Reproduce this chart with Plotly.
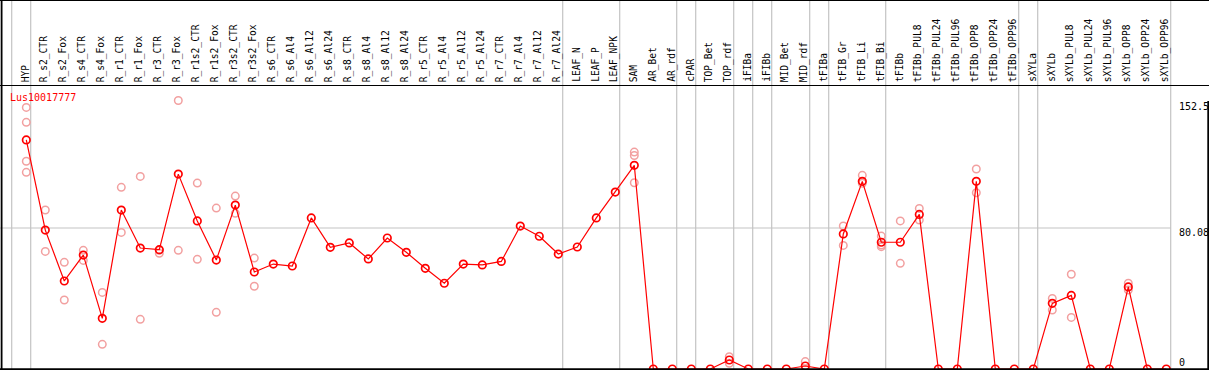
import plotly.graph_objects as go

W, H = 1209, 370

categories = ["HYP", "R_s2_CTR", "R_s2_Fox", "R_s4_CTR", "R_s4_Fox", "R_r1_CTR", "R_r1_Fox",
              "R_r3_CTR", "R_r3_Fox", "R_r1s2_CTR", "R_r1s2_Fox", "R_r3s2_CTR", "R_r3s2_Fox",
              "R_s6_CTR", "R_s6_Al4", "R_s6_Al12", "R_s6_Al24", "R_s8_CTR", "R_s8_Al4",
              "R_s8_Al12", "R_s8_Al24", "R_r5_CTR", "R_r5_Al4", "R_r5_Al12", "R_r5_Al24",
              "R_r7_CTR", "R_r7_Al4", "R_r7_Al12", "R_r7_Al24", "LEAF_N", "LEAF_P", "LEAF_NPK",
              "SAM", "AR_Bet", "AR_rdf", "cPAR", "TOP_Bet", "TOP_rdf", "iFIBa", "iFIBb",
              "MID_Bet", "MID_rdf", "tFIBa", "tFIB_Gr", "tFIB_Li", "tFIB_Bi", "tFIBb",
              "tFIBb_PUL8", "tFIBb_PUL24", "tFIBb_PUL96", "tFIBb_OPP8", "tFIBb_OPP24",
              "tFIBb_OPP96", "sXYLa", "sXYLb", "sXYLb_PUL8", "sXYLb_PUL24", "sXYLb_PUL96",
              "sXYLb_OPP8", "sXYLb_OPP24", "sXYLb_OPP96"]

means = [130.1, 78.9, 50.0, 64.7, 28.8, 90.3, 68.7, 67.8, 110.7, 84.1, 61.9, 93.1, 55.1,
         59.6, 58.5, 85.8, 69.1, 71.6, 62.5, 74.4, 66.3, 57.2, 48.7, 59.6, 59.1,
         61.1, 81.2, 75.4, 65.3, 69.3, 85.8, 100.5,
         115.7, 0, 0, 0, 0, 5.1, 0, 0,
         0, 1.7, 0, 76.7, 106.6, 72.0, 72.0,
         87.8, 0, 0, 106.6, 0,
         0, 0, 37.3, 41.8, 0, 0,
         46.6, 0, 0]

replicates = [[148.6, 140.1, 118.0, 111.7], [90.3, 66.8], [60.6, 39.2], [67.4, 61.7],
              [43.5, 14.0], [103.2, 77.6], [109.4, 28.2], [67.4, 65.7], [152.5, 67.4],
              [105.6, 62.3], [91.4, 32.2], [98.2, 88.4], [63.0, 47.0],
              [], [], [], [], [], [], [], [], [], [], [], [], [], [], [], [], [], [], [],
              [123.2, 121.3, 105.8], [], [], [], [], [7.0, 3.2], [], [],
              [], [4.2, 0.0], [], [81.2, 70.2], [110.0, 105.5], [75.5, 69.5, 70.4], [84.1, 60.0],
              [91.2, 84.6], [], [], [113.6, 100.1], [],
              [], [], [40.1, 33.5], [53.8, 29.3], [], [],
              [48.7, 44.9], [], []]

# group separators: drawn just after these category indices
separators_after = [-1, 0, 28, 31, 34, 35, 37, 38, 39, 41, 42, 45, 52, 53, 60]

y_ticks = [0, 80.08, 152.5]
y_tick_labels = ["0", "80.08", "152.5"]
gene_id = "Lus10017777"

# pixel mapping
X0, DX = 26.3, 19.0          # pixel of first category, pixel step
Y0, SY = 369.0, 1.7605       # pixel of value 0, pixels per unit
x_min = -X0 / DX
x_max = (W - X0) / DX
y_min = (Y0 - H) / SY
y_max = Y0 / SY

def px(xp):
    return xp / W

def py(yp):
    return 1 - yp / H

idx = list(range(len(categories)))
rx, ry = [], []
for i, reps in enumerate(replicates):
    for v in reps:
        rx.append(i)
        ry.append(v)

fig = go.Figure()
fig.add_trace(go.Scatter(x=rx, y=ry, mode="markers",
                         marker=dict(symbol="circle-open", size=7.5, color="#F2A0A0",
                                     line=dict(width=1.5, color="#F2A0A0")),
                         hoverinfo="skip", showlegend=False))
fig.add_trace(go.Scatter(x=idx, y=means, mode="lines+markers",
                         line=dict(color="#FF0000", width=1.2),
                         marker=dict(symbol="circle-open", size=7.5, color="#FF0000",
                                     line=dict(width=1.7, color="#FF0000")),
                         text=categories, showlegend=False))

shapes = []
gray = "#C4C4C4"
off = 4.4 / DX
for s in separators_after:
    shapes.append(dict(type="line", xref="x", yref="paper", x0=s + off, x1=s + off,
                       y0=py(369), y1=1, line=dict(color=gray, width=1.2), layer="below"))
# horizontal grid at middle tick
shapes.append(dict(type="line", xref="paper", yref="y", x0=0, x1=px(1171),
                   y0=y_ticks[1], y1=y_ticks[1], line=dict(color=gray, width=1.2), layer="below"))
# black frame lines
black = "#000000"
shapes += [
    dict(type="line", xref="paper", yref="paper", x0=0, x1=1, y0=py(0.5), y1=py(0.5),
         line=dict(color=black, width=1.2)),
    dict(type="line", xref="paper", yref="paper", x0=0, x1=1, y0=py(85.5), y1=py(85.5),
         line=dict(color=black, width=1.2)),
    dict(type="line", xref="paper", yref="paper", x0=0, x1=1, y0=py(369.2), y1=py(369.2),
         line=dict(color=black, width=2)),
    dict(type="line", xref="paper", yref="paper", x0=px(1.6), x1=px(1.6), y0=py(0), y1=py(370),
         line=dict(color=black, width=1.8)),
    dict(type="line", xref="paper", yref="paper", x0=px(1208.2), x1=px(1208.2), y0=py(101), y1=py(370),
         line=dict(color=black, width=1.8)),
]

font_main = "DejaVu Sans Mono, Liberation Mono, monospace"
annotations = []
for i, c in enumerate(categories):
    annotations.append(dict(x=i, y=py(84), xref="x", yref="paper", text=c, showarrow=False,
                            textangle=-90, xanchor="center", yanchor="bottom", xshift=-1,
                            font=dict(family=font_main, size=9.6, color="#000000")))
annotations.append(dict(x=px(8), y=py(97), xref="paper", yref="paper", text=gene_id,
                        showarrow=False, xanchor="left", yanchor="middle",
                        font=dict(family=font_main, size=10, color="#FF0000")))
label_py = [362, 232, 107]
for t, lab, ly in zip(y_ticks, y_tick_labels, label_py):
    annotations.append(dict(x=px(1177), y=py(ly), xref="paper", yref="paper", text=lab,
                            showarrow=False, xanchor="left", yanchor="middle",
                            font=dict(family=font_main, size=10, color="#000000")))

fig.update_layout(
    width=W, height=H, margin=dict(l=0, r=0, t=0, b=0),
    paper_bgcolor="#FFFFFF", plot_bgcolor="#FFFFFF",
    xaxis=dict(range=[x_min, x_max], showgrid=False, zeroline=False, showticklabels=False,
               showline=False, fixedrange=True),
    yaxis=dict(range=[y_min, y_max], showgrid=False, zeroline=False, showticklabels=False,
               showline=False, fixedrange=True),
    shapes=shapes, annotations=annotations, showlegend=False,
)

fig.write_html("out.html", config={"displayModeBar": False},
               post_script="document.body.style.margin='0';document.body.style.overflow='hidden';")
